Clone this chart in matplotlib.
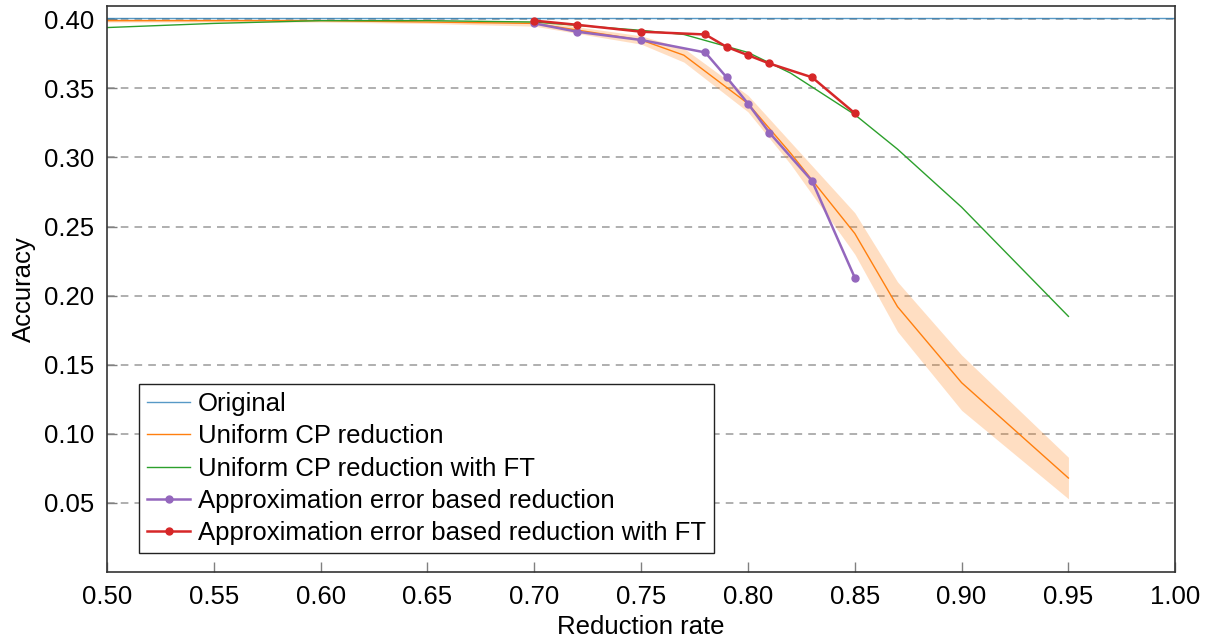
import matplotlib
matplotlib.use('Agg')
import matplotlib.pyplot as plt
import numpy as np

plt.rcParams['font.family'] = ['Liberation Sans', 'DejaVu Sans']

# reduction rates and accuracies
original_x = [0.5, 1.0]
original_acc = [0.401, 0.401]

uniform_x = [0.5, 0.55, 0.6, 0.65, 0.7, 0.75, 0.77, 0.8, 0.82, 0.85, 0.87, 0.9, 0.95]
uniform_acc = [0.399, 0.399, 0.399, 0.398, 0.397, 0.385, 0.374, 0.339, 0.303, 0.245, 0.192, 0.137, 0.068]
uniform_std = [0.001, 0.001, 0.001, 0.001, 0.002, 0.003, 0.005, 0.006, 0.008, 0.015, 0.018, 0.020, 0.015]

uniform_ft_acc = [0.394, 0.397, 0.399, 0.399, 0.398, 0.392, 0.389, 0.376, 0.361, 0.331, 0.306, 0.264, 0.185]

approx_x = [0.70, 0.72, 0.75, 0.78, 0.79, 0.80, 0.81, 0.83, 0.85]
approx_acc = [0.397, 0.391, 0.385, 0.376, 0.358, 0.339, 0.318, 0.283, 0.213]
approx_ft_acc = [0.399, 0.396, 0.391, 0.389, 0.380, 0.374, 0.368, 0.358, 0.332]

xticks = [0.50, 0.55, 0.60, 0.65, 0.70, 0.75, 0.80, 0.85, 0.90, 0.95, 1.00]
yticks = [0.05, 0.10, 0.15, 0.20, 0.25, 0.30, 0.35, 0.40]

FS = 18.5

fig = plt.figure(figsize=(12.16, 6.43), dpi=100)
ax = fig.add_axes([0.088, 0.1104, 0.8785, 0.8807])

for y in yticks:
    ax.axhline(y, color='#9a9a9a', lw=1.1, ls=(0, (5, 4)), zorder=0)

lo = np.array(uniform_acc) - np.array(uniform_std)
hi = np.array(uniform_acc) + np.array(uniform_std)
ax.fill_between(uniform_x, lo, hi, color='#ff7f0e', alpha=0.25, lw=0, zorder=1)

ax.plot(original_x, original_acc, color='#1f77b4', alpha=0.75, lw=1.0, label='Original', zorder=2)
ax.plot(uniform_x, uniform_acc, color='#ff7f0e', lw=1.0, label='Uniform CP reduction', zorder=2)
ax.plot(uniform_x, uniform_ft_acc, color='#2ca02c', lw=1.0, label='Uniform CP reduction with FT', zorder=2)
ax.plot(approx_x, approx_acc, color='#9467bd', lw=1.8, marker='o', ms=5,
        label='Approximation error based reduction', zorder=3)
ax.plot(approx_x, approx_ft_acc, color='#d62728', lw=1.8, marker='o', ms=5,
        label='Approximation error based reduction with FT', zorder=3)

ax.set_xlim(0.5, 1.0)
ax.set_ylim(0.0, 0.4098)
ax.set_xticks(xticks)
ax.set_xticklabels([f'{v:.2f}' for v in xticks])
ax.set_yticks(yticks)
ax.set_yticklabels([f'{v:.2f}' for v in yticks])
ax.tick_params(direction='in', length=7, width=1, color='#808080', labelsize=FS, pad=9)
ax.tick_params(top=False, right=False)
for s in ax.spines.values():
    s.set_color('#333333')
    s.set_linewidth(1.2)

ax.set_xlabel('Reduction rate', fontsize=FS, labelpad=5)
ax.set_ylabel('Accuracy', fontsize=FS, labelpad=6)

leg = ax.legend(loc='lower left', bbox_to_anchor=(0.03, 0.034), borderaxespad=0,
                fontsize=FS, handlelength=1.7, handletextpad=0.3, labelspacing=0.32,
                fancybox=False, framealpha=1, edgecolor='#222222', borderpad=0.3)
leg.get_frame().set_linewidth(1.0)

fig.savefig('out.png', dpi=100)
